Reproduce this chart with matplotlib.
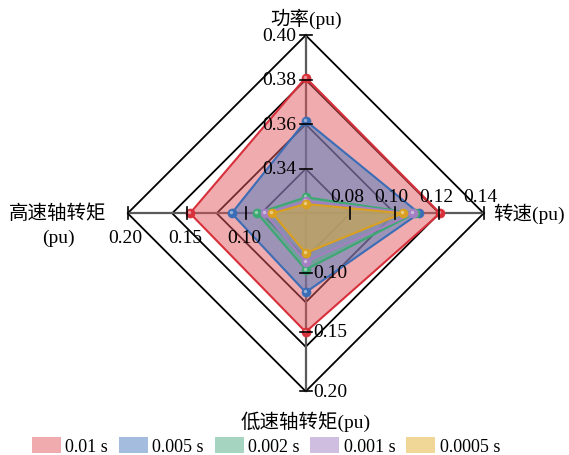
import matplotlib
matplotlib.use("Agg")
import matplotlib.pyplot as plt
from matplotlib.patches import Patch
import numpy as np

plt.rcParams['font.family'] = ['Liberation Serif', 'Noto Sans CJK SC']

# four spokes: top, right, bottom, left
axis_names = ['功率(pu)', '转速(pu)', '低速轴转矩(pu)', '高速轴转矩\n(pu)']
axis_ranges = [(0.32, 0.40), (0.06, 0.14), (0.05, 0.20), (0.05, 0.20)]
axis_ticks = [[0.34, 0.36, 0.38, 0.40],
              [0.08, 0.10, 0.12, 0.14],
              [0.10, 0.15, 0.20],
              [0.10, 0.15, 0.20]]

series_labels = ['0.01 s', '0.005 s', '0.002 s', '0.001 s', '0.0005 s']
power = [0.381, 0.3616, 0.3272, 0.3255, 0.3242]
speed = [0.1204, 0.111, 0.109, 0.1084, 0.1036]
low_torque = [0.150, 0.1166, 0.0975, 0.091, 0.0835]
high_torque = [0.1475, 0.1124, 0.0908, 0.0843, 0.078]

line_colors = ['#D8303B', '#3A6DB6', '#3CA872', '#A47FC2', '#D9A11F']
fill_colors = ['#E0585F', '#4A7CC0', '#4DAA82', '#A07FC2', '#E5B030']

directions = np.array([[0, 1], [1, 0], [0, -1], [-1, 0]], dtype=float)


def to_radius(val, k):
    lo, hi = axis_ranges[k]
    return (val - lo) / (hi - lo)


def point(val, k):
    return directions[k] * to_radius(val, k)


fig = plt.figure(figsize=(5.69, 4.56), dpi=100)
ax = fig.add_axes([0, 0, 1, 1])
unit = 178.0
cx, cy = 305.7, 214.3
ax.set_xlim(-cx / unit, (569 - cx) / unit)
ax.set_ylim(-(456 - cy) / unit, cy / unit)
ax.axis('off')

# grid diamonds
for level in [0.25, 0.5, 0.75, 1.0]:
    pts = np.vstack([directions * level, directions[:1] * level])
    ax.plot(pts[:, 0], pts[:, 1], color='black', lw=1.3, zorder=1)

# spokes
for d in directions:
    ax.plot([0, d[0]], [0, d[1]], color='#5a5a5a', lw=1.6, zorder=2)

# series polygons
for i, lab in enumerate(series_labels):
    vals = [power[i], speed[i], low_torque[i], high_torque[i]]
    pts = np.array([point(v, k) for k, v in enumerate(vals)])
    ax.fill(pts[:, 0], pts[:, 1], color=fill_colors[i], alpha=0.5, lw=0, zorder=3 + i)
    closed = np.vstack([pts, pts[:1]])
    ax.plot(closed[:, 0], closed[:, 1], color=line_colors[i], lw=1.5, zorder=3 + i)
    ax.plot(pts[:, 0], pts[:, 1], 'o', ms=6.5, color=line_colors[i],
            mec=line_colors[i], mew=0.5, zorder=10 + i)
    # small highlight on each marker
    ax.plot(pts[:, 0] - 1 / unit, pts[:, 1] + 1 / unit, 'o', ms=2.5, color='white',
            alpha=0.45, mew=0, zorder=10 + i)

# ticks and tick labels on each spoke
tl = 6 / unit
fs = 14
for k, ticks in enumerate(axis_ticks):
    for t in ticks:
        r = to_radius(t, k)
        txt = f'{t:.2f}'
        if k == 0:
            ax.plot([-tl, tl], [r, r], color='black', lw=1.2, zorder=20)
            ax.text(-9 / unit, r, txt, ha='right', va='center', fontsize=fs, zorder=20)
        elif k == 1:
            ax.plot([r, r], [-tl, tl], color='black', lw=1.2, zorder=20)
            ax.text(r - 3 / unit, 17 / unit, txt, ha='center', va='center', fontsize=fs, zorder=20)
        elif k == 2:
            ax.plot([-tl, tl], [-r, -r], color='black', lw=1.2, zorder=20)
            ax.text(8 / unit, -r, txt, ha='left', va='center', fontsize=fs, zorder=20)
        else:
            ax.plot([-r, -r], [-tl, tl], color='black', lw=1.2, zorder=20)
            ax.text(-r - 2 / unit, -24 / unit, txt, ha='center', va='center', fontsize=fs, zorder=20)

# spoke titles
ax.text(0, (cy - 19) / unit, axis_names[0], ha='center', va='center', fontsize=fs)
ax.text((493 - cx) / unit, 0, axis_names[1], ha='left', va='center', fontsize=fs)
ax.text(0, (cy - 422) / unit, axis_names[2], ha='center', va='center', fontsize=fs)
ax.text((58 - cx) / unit, (cy - 226) / unit, axis_names[3], ha='center', va='center',
        fontsize=fs, linespacing=1.5)

handles = [Patch(facecolor=fill_colors[i], alpha=0.5, edgecolor='none')
           for i in range(len(series_labels))]
fig.legend(handles, series_labels, loc='center', bbox_to_anchor=(266 / 569, 1 - 447 / 456),
           ncol=5, frameon=False, fontsize=13, handlelength=1.6, handleheight=0.95,
           handletextpad=0.25, columnspacing=0.6, borderpad=0)

fig.savefig('out.png', dpi=100)
